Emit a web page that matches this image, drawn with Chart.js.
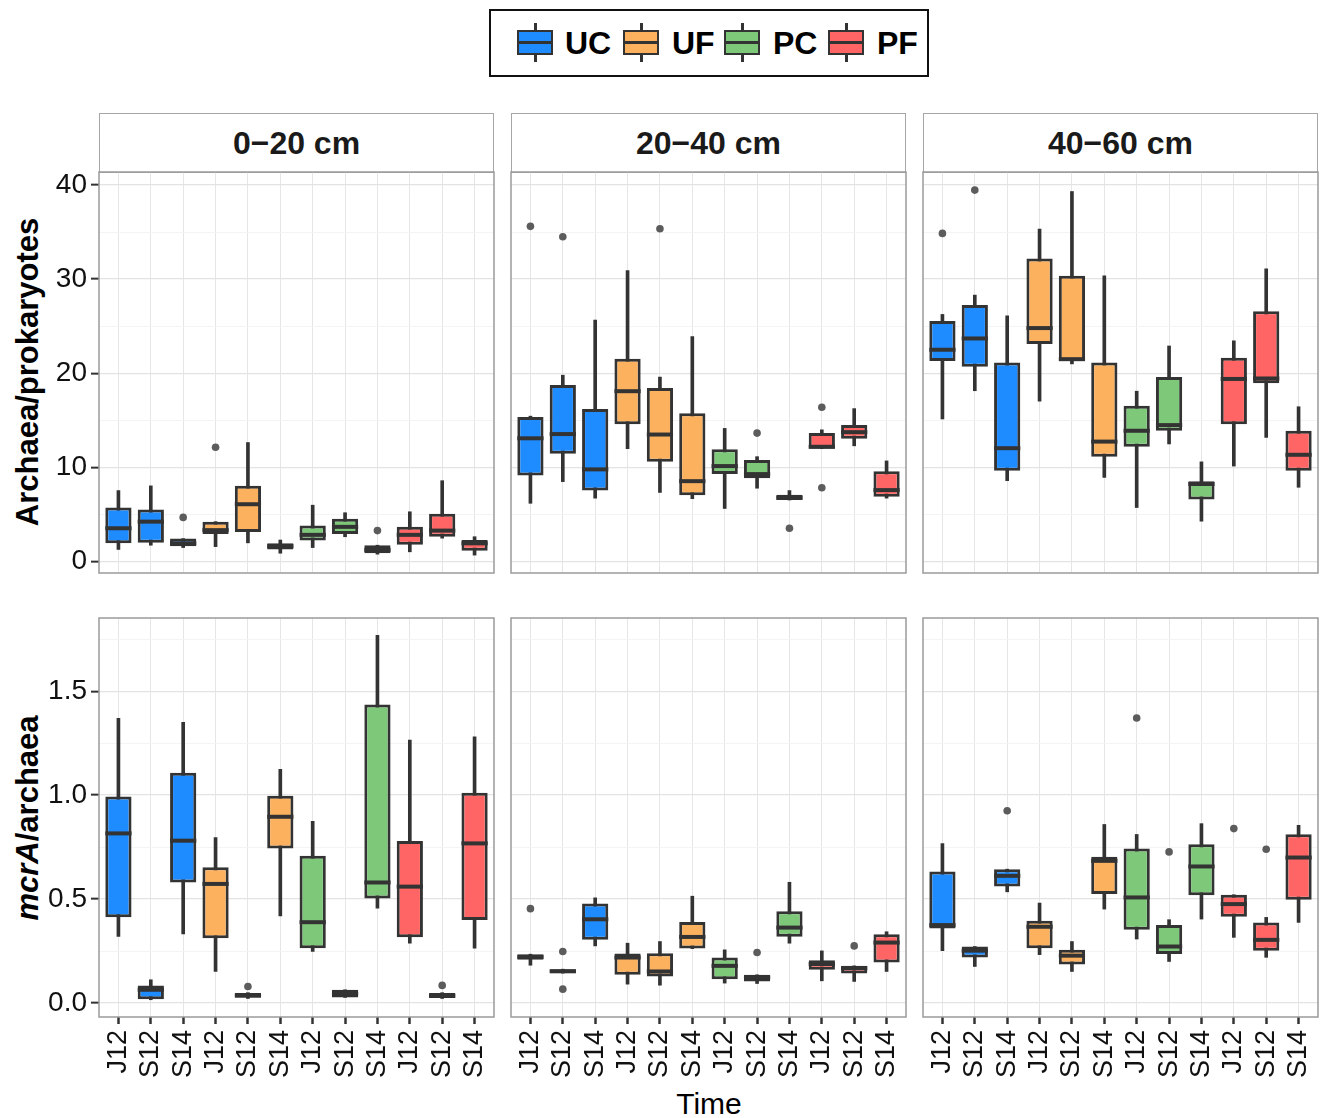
<!DOCTYPE html>
<html>
<head>
<meta charset="utf-8">
<script src="https://cdn.jsdelivr.net/npm/chart.js@4.4.1/dist/chart.umd.min.js"></script>
<style>
  body { margin: 0; background: #fff; font-family: 'Liberation Sans', Arial, sans-serif; }
  #page { position: relative; width: 1324px; height: 1118px; overflow: hidden; background: #fff; }
  canvas { position: absolute; }
  .legend { position: absolute; left: 489px; top: 9px; width: 440px; height: 68px; border: 2px solid #111; box-sizing: border-box; }
  .stem { position: absolute; width: 3px; height: 39px; background: #333; }
  .key { position: absolute; width: 36px; height: 25px; border: 2px solid #333; box-sizing: border-box; }
  .key::before { content: ''; position: absolute; left: 0; right: 0; top: 9px; height: 3px; background: #333; }
  .keytext { position: absolute; font-weight: bold; font-size: 32px; line-height: 32px; color: #000; }
  .strip { position: absolute; top: 113px; width: 395px; height: 60px; border: 1px solid #a6a6a6; box-sizing: border-box;
           text-align: center; font-weight: bold; font-size: 32px; line-height: 58px; color: #1a1a1a; }
  .ytitle { position: absolute; left: 28px; transform: translate(-50%, -50%) rotate(-90deg); font-weight: bold;
            font-size: 31px; white-space: nowrap; color: #000; }
  .xtitle { position: absolute; left: 709px; top: 1104px; transform: translate(-50%, -50%); font-size: 30px; color: #000; }
</style>
</head>
<body>
<div id="page">
  <div class="legend"></div>
  <div class="ytitle" style="top:372px">Archaea/prokaryotes</div>
  <div class="ytitle" style="top:818px"><i>mcrA</i>/archaea</div>
  <div class="xtitle">Time</div>
</div>
<script>
const depths = ['0\u221220 cm', '20\u221240 cm', '40\u221260 cm'];
const treatments = ['UC', 'UF', 'PC', 'PF'];
const timeLabels = ['J12', 'S12', 'S14'];

// y axis ticks (major labelled, minor only as grid)
const ratioTicks = [0, 10, 20, 30, 40];
const ratioTickLabels = ['0', '10', '20', '30', '40'];
const ratioMinor = [5, 15, 25, 35];
const mcraTicks = [0, 0.5, 1, 1.5];
const mcraTickLabels = ['0.0', '0.5', '1.0', '1.5'];
const mcraMinor = [0.25, 0.75, 1.25, 1.75];

// [lower whisker, Q1, median, Q3, upper whisker], order UC J12..S14, UF, PC, PF
const ratio0to20 = [
  [1.3, 1.95, 3.55, 5.75, 7.55], [1.75, 2.0, 4.25, 5.55, 8.05], [1.5, 1.65, 1.95, 2.45, 2.45],
  [1.6, 2.95, 3.35, 4.25, 4.25], [2.0, 3.15, 6.1, 8.05, 12.65], [0.9, 1.3, 1.65, 1.95, 2.3],
  [1.5, 2.25, 2.85, 3.85, 6.0], [2.65, 2.95, 3.7, 4.55, 5.2], [0.8, 0.9, 1.25, 1.75, 1.75],
  [1.05, 1.8, 2.85, 3.7, 5.3], [2.5, 2.65, 3.3, 5.1, 8.6], [0.7, 1.15, 1.95, 2.3, 2.65]
];
const ratio0to20Out = [[], [], [4.7], [12.15], [], [], [], [], [3.3], [], [], []];

const ratio20to40 = [
  [6.2, 9.15, 13.1, 15.35, 15.45], [8.5, 11.45, 13.55, 18.75, 19.8], [6.75, 7.55, 9.8, 16.2, 25.65],
  [12.0, 14.6, 18.1, 21.55, 30.9], [7.35, 10.6, 13.5, 18.45, 19.6], [6.7, 7.05, 8.55, 15.75, 23.9],
  [5.65, 9.3, 10.15, 11.95, 14.15], [7.8, 8.85, 9.3, 10.8, 11.15], [6.55, 6.55, 6.8, 7.1, 7.55],
  [12.0, 12.0, 12.2, 13.65, 14.0], [12.3, 13.05, 13.75, 14.5, 16.25], [6.75, 6.9, 7.6, 9.6, 10.7]
];
const ratio20to40Out = [[35.6], [34.5], [], [], [35.35], [], [], [13.65], [3.55], [16.4, 7.85], [], []];

const ratio40to60 = [
  [15.15, 21.3, 22.5, 25.55, 26.25], [18.15, 20.7, 23.7, 27.25, 28.3], [8.6, 9.65, 12.05, 21.15, 26.1],
  [17.05, 23.1, 24.8, 32.2, 35.3], [21.0, 21.3, 21.5, 30.35, 39.3], [8.95, 11.15, 12.75, 21.15, 30.35],
  [5.75, 12.2, 13.9, 16.55, 18.1], [12.5, 13.9, 14.5, 19.6, 22.9], [4.3, 6.6, 8.25, 8.55, 10.6],
  [10.15, 14.6, 19.4, 21.65, 23.45], [13.2, 18.95, 19.45, 26.6, 31.1], [7.9, 9.65, 11.35, 13.9, 16.45]
];
const ratio40to60Out = [[34.85], [39.45], [], [], [], [], [], [], [], [], [], []];

const mcra0to20 = [
  [0.32, 0.413, 0.816, 0.993, 1.369], [0.016, 0.018, 0.064, 0.085, 0.112], [0.333, 0.58, 0.781, 1.108, 1.35],
  [0.152, 0.312, 0.573, 0.653, 0.796], [0.022, 0.026, 0.037, 0.048, 0.05], [0.419, 0.743, 0.896, 0.997, 1.124],
  [0.248, 0.264, 0.389, 0.709, 0.874], [0.027, 0.027, 0.045, 0.064, 0.064], [0.456, 0.503, 0.58, 1.436, 1.769],
  [0.288, 0.317, 0.56, 0.78, 1.265], [0.022, 0.024, 0.035, 0.048, 0.05], [0.264, 0.4, 0.768, 1.012, 1.281]
];
const mcra0to20Out = [[], [], [], [], [0.08], [], [], [], [], [], [0.085], []];

const mcra20to40 = [
  [0.182, 0.208, 0.222, 0.235, 0.235], [0.144, 0.144, 0.153, 0.163, 0.163], [0.275, 0.304, 0.403, 0.479, 0.506],
  [0.091, 0.136, 0.219, 0.238, 0.288], [0.086, 0.128, 0.152, 0.24, 0.296], [0.262, 0.262, 0.318, 0.39, 0.514],
  [0.096, 0.115, 0.179, 0.219, 0.256], [0.094, 0.104, 0.123, 0.136, 0.136], [0.288, 0.319, 0.363, 0.442, 0.581],
  [0.107, 0.16, 0.188, 0.206, 0.251], [0.104, 0.142, 0.168, 0.179, 0.179], [0.152, 0.195, 0.291, 0.331, 0.343]
];
const mcra20to40Out = [[0.454], [0.248, 0.067], [], [], [], [], [], [0.243], [], [], [0.275], []];

const mcra40to60 = [
  [0.252, 0.359, 0.375, 0.633, 0.767], [0.176, 0.219, 0.252, 0.272, 0.272], [0.535, 0.561, 0.612, 0.644, 0.644],
  [0.233, 0.264, 0.367, 0.396, 0.481], [0.152, 0.185, 0.228, 0.257, 0.296], [0.452, 0.524, 0.684, 0.704, 0.859],
  [0.308, 0.353, 0.508, 0.743, 0.811], [0.2, 0.236, 0.272, 0.375, 0.401], [0.404, 0.519, 0.657, 0.764, 0.863],
  [0.316, 0.415, 0.476, 0.521, 0.521], [0.22, 0.252, 0.304, 0.388, 0.412], [0.388, 0.497, 0.7, 0.812, 0.855]
];
const mcra40to60Out = [[], [], [0.925], [], [], [], [1.371], [0.727], [], [0.839], [0.74], []];

const treatmentColors = ['#1E8CFF', '#FBB15E', '#7EC87A', '#FF6565'];
const xLabels = treatments.flatMap(() => timeLabels);

Chart.defaults.font.family = "'Liberation Sans', Arial, sans-serif";

const page = document.getElementById('page');

// legend
const legendIcon = [517, 623, 724, 828];
const legendText = [565, 672, 773, 877];
treatments.forEach((t, k) => {
  const stem = document.createElement('div');
  stem.className = 'stem';
  stem.style.left = (legendIcon[k] + 16.5) + 'px';
  stem.style.top = '23px';
  page.appendChild(stem);
  const key = document.createElement('div');
  key.className = 'key';
  key.style.left = legendIcon[k] + 'px';
  key.style.top = '30px';
  key.style.background = treatmentColors[k];
  page.appendChild(key);
  const txt = document.createElement('div');
  txt.className = 'keytext';
  txt.style.left = legendText[k] + 'px';
  txt.style.top = '27px';
  txt.textContent = t;
  page.appendChild(txt);
});

const colLeft = [99, 511, 923];
const plotW = 395;
const rowTop = [172, 618];
const plotH = [401, 399];

depths.forEach((d, c) => {
  const s = document.createElement('div');
  s.className = 'strip';
  s.style.left = colLeft[c] + 'px';
  s.textContent = d;
  page.appendChild(s);
});

// fixed axis sizes so every panel lines up like facets
function fixBox(scale, w, h) {
  if (w !== null) scale.width = w;
  if (h !== null) scale.height = h;
  scale.paddingTop = 0;
  scale.paddingBottom = 0;
  scale.paddingLeft = 0;
  scale.paddingRight = 0;
}

function makePanel(row, col, stats, outliers) {
  const firstCol = col === 0;
  const bottomRow = row === 1;
  const yw = firstCol ? 64 : 0;
  const xh = bottomRow ? 84 : 0;
  const canvas = document.createElement('canvas');
  canvas.width = yw + plotW + 8;
  canvas.height = plotH[row] + xh + 8;
  canvas.style.left = (colLeft[col] - yw - 4) + 'px';
  canvas.style.top = (rowTop[row] - 4) + 'px';
  page.appendChild(canvas);

  const major = bottomRow ? mcraTicks : ratioTicks;
  const majorLabels = bottomRow ? mcraTickLabels : ratioTickLabels;
  const minor = bottomRow ? mcraMinor : ratioMinor;
  const yMin = bottomRow ? -0.067 : -1.2;
  const yMax = bottomRow ? 1.852 : 41.37;
  const isMajor = v => major.some(m => Math.abs(m - v) < 1e-9);

  const colors = stats.map((_, i) => treatmentColors[Math.floor(i / 3)]);
  const outPoints = [];
  outliers.forEach((list, i) => list.forEach(v => outPoints.push({ x: i, y: v })));

  const boxPlot = {
    id: 'boxPlot',
    afterDatasetsDraw(chart) {
      const { ctx, chartArea, scales } = chart;
      const meta = chart.getDatasetMeta(1);
      ctx.save();
      ctx.strokeStyle = '#333';
      ctx.lineWidth = 4;
      meta.data.forEach((bar, i) => {
        const { x, width } = bar.getProps(['x', 'width'], true);
        const y = scales.y.getPixelForValue(stats[i][2]);
        ctx.beginPath();
        ctx.moveTo(x - width / 2, y);
        ctx.lineTo(x + width / 2, y);
        ctx.stroke();
      });
      ctx.strokeStyle = '#9a9a9a';
      ctx.lineWidth = 1.5;
      ctx.strokeRect(chartArea.left, chartArea.top, chartArea.right - chartArea.left, chartArea.bottom - chartArea.top);
      ctx.restore();
    }
  };

  new Chart(canvas.getContext('2d'), {
    type: 'bar',
    data: {
      datasets: [
        {
          // whiskers
          data: stats.map((s, i) => ({ x: i, y: [s[0], s[4]] })),
          backgroundColor: '#333',
          barThickness: 3,
          grouped: false,
          order: 3
        },
        {
          // boxes
          data: stats.map((s, i) => ({ x: i, y: [s[1], s[3]] })),
          backgroundColor: colors,
          borderColor: '#333',
          borderWidth: 3,
          borderSkipped: false,
          categoryPercentage: 1,
          barPercentage: 0.81,
          grouped: false,
          order: 2
        },
        {
          type: 'scatter',
          data: outPoints,
          pointRadius: 3.8,
          pointBackgroundColor: '#5c5c5c',
          pointBorderWidth: 0,
          order: 1
        }
      ]
    },
    options: {
      responsive: false,
      animation: false,
      events: [],
      layout: { padding: 4 },
      plugins: { legend: { display: false }, tooltip: { enabled: false } },
      scales: {
        x: {
          type: 'linear',
          min: -0.6,
          max: 11.6,
          offset: false,
          afterBuildTicks: s => { s.ticks = xLabels.map((_, i) => ({ value: i })); },
          afterFit: s => fixBox(s, null, xh),
          border: { display: false },
          grid: { color: '#e6e6e6', lineWidth: 1, offset: false, drawTicks: bottomRow, tickLength: 7, tickColor: '#333', tickWidth: 2.5 },
          ticks: {
            display: bottomRow, autoSkip: false, minRotation: 90, maxRotation: 90, padding: 6,
            color: '#111', font: { size: 27 },
            callback: v => xLabels[v]
          }
        },
        y: {
          type: 'linear',
          min: yMin,
          max: yMax,
          afterBuildTicks: s => { s.ticks = major.concat(minor).sort((a, b) => a - b).map(v => ({ value: v })); },
          afterFit: s => fixBox(s, yw, null),
          border: { display: false },
          grid: {
            color: ctx => isMajor(ctx.tick.value) ? '#e3e3e3' : '#f3f3f3',
            lineWidth: ctx => isMajor(ctx.tick.value) ? 1.3 : 0.9,
            drawTicks: firstCol, tickLength: 8,
            tickColor: ctx => isMajor(ctx.tick.value) ? '#333' : 'rgba(0,0,0,0)',
            tickWidth: 2
          },
          ticks: {
            display: firstCol, padding: 4, color: '#111', font: { size: 28 },
            callback: v => { const k = major.findIndex(m => Math.abs(m - v) < 1e-9); return k < 0 ? '' : majorLabels[k]; }
          }
        }
      }
    },
    plugins: [boxPlot]
  });
}

makePanel(0, 0, ratio0to20, ratio0to20Out);
makePanel(0, 1, ratio20to40, ratio20to40Out);
makePanel(0, 2, ratio40to60, ratio40to60Out);
makePanel(1, 0, mcra0to20, mcra0to20Out);
makePanel(1, 1, mcra20to40, mcra20to40Out);
makePanel(1, 2, mcra40to60, mcra40to60Out);
</script>
</body>
</html>
